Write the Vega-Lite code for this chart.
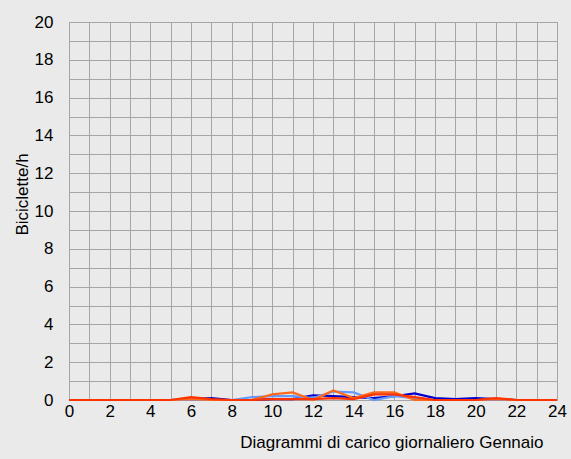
{
  "$schema": "https://vega.github.io/schema/vega-lite/v6.json",
  "width": 488,
  "height": 378,
  "autosize": "none",
  "padding": {"left": 69, "top": 22, "right": 14, "bottom": 59},
  "background": "#EAEAEA",
  "config": {
    "view": {"stroke": "#A0A0A0", "strokeWidth": 1, "fill": "#EAEAEA"},
    "font": "Liberation Sans"
  },
  "data": {
    "values": [
      {"h": 0, "Serie 1": 0, "Serie 2": 0, "Serie 3": 0, "Serie 4": 0},
      {"h": 1, "Serie 1": 0, "Serie 2": 0, "Serie 3": 0, "Serie 4": 0},
      {"h": 2, "Serie 1": 0, "Serie 2": 0, "Serie 3": 0, "Serie 4": 0},
      {"h": 3, "Serie 1": 0, "Serie 2": 0, "Serie 3": 0, "Serie 4": 0},
      {"h": 4, "Serie 1": 0, "Serie 2": 0, "Serie 3": 0, "Serie 4": 0},
      {"h": 5, "Serie 1": 0, "Serie 2": 0, "Serie 3": 0, "Serie 4": 0},
      {"h": 6, "Serie 1": 0.05, "Serie 2": 0, "Serie 3": 0.05, "Serie 4": 0.15},
      {"h": 7, "Serie 1": 0.1, "Serie 2": 0, "Serie 3": 0, "Serie 4": 0.05},
      {"h": 8, "Serie 1": 0, "Serie 2": 0, "Serie 3": 0, "Serie 4": 0},
      {"h": 9, "Serie 1": 0, "Serie 2": 0.15, "Serie 3": 0, "Serie 4": 0},
      {"h": 10, "Serie 1": 0.05, "Serie 2": 0.2, "Serie 3": 0.3, "Serie 4": 0.05},
      {"h": 11, "Serie 1": 0.05, "Serie 2": 0.2, "Serie 3": 0.4, "Serie 4": 0.05},
      {"h": 12, "Serie 1": 0.25, "Serie 2": 0.1, "Serie 3": 0, "Serie 4": 0.05},
      {"h": 13, "Serie 1": 0.2, "Serie 2": 0.45, "Serie 3": 0.5, "Serie 4": 0.1},
      {"h": 14, "Serie 1": 0.15, "Serie 2": 0.4, "Serie 3": 0.1, "Serie 4": 0.05},
      {"h": 15, "Serie 1": 0.1, "Serie 2": 0, "Serie 3": 0.4, "Serie 4": 0.3},
      {"h": 16, "Serie 1": 0.2, "Serie 2": 0.2, "Serie 3": 0.4, "Serie 4": 0.3},
      {"h": 17, "Serie 1": 0.35, "Serie 2": 0.1, "Serie 3": 0, "Serie 4": 0.15},
      {"h": 18, "Serie 1": 0.1, "Serie 2": 0, "Serie 3": 0, "Serie 4": 0},
      {"h": 19, "Serie 1": 0.05, "Serie 2": 0, "Serie 3": 0, "Serie 4": 0},
      {"h": 20, "Serie 1": 0.1, "Serie 2": 0, "Serie 3": 0, "Serie 4": 0},
      {"h": 21, "Serie 1": 0.05, "Serie 2": 0, "Serie 3": 0.05, "Serie 4": 0.1},
      {"h": 22, "Serie 1": 0, "Serie 2": 0, "Serie 3": 0, "Serie 4": 0},
      {"h": 23, "Serie 1": 0, "Serie 2": 0, "Serie 3": 0, "Serie 4": 0},
      {"h": 24, "Serie 1": 0, "Serie 2": 0, "Serie 3": 0, "Serie 4": 0}
    ]
  },
  "transform": [
    {"fold": ["Serie 1", "Serie 2", "Serie 3", "Serie 4"], "as": ["serie", "v"]}
  ],
  "mark": {"type": "line", "strokeWidth": 2.2, "clip": false},
  "encoding": {
    "x": {
      "field": "h",
      "type": "quantitative",
      "scale": {"domain": [0, 24], "nice": false, "zero": false},
      "axis": {
        "values": [0,1,2,3,4,5,6,7,8,9,10,11,12,13,14,15,16,17,18,19,20,21,22,23,24],
        "labelExpr": "datum.value % 2 == 0 ? datum.label : ''",
        "ticks": false,
        "domain": false,
        "grid": true,
        "gridColor": "#A6A6A6",
        "gridOpacity": 1,
        "gridWidth": 1,
        "labelFont": "Liberation Sans",
        "labelFontSize": 17,
        "labelColor": "#000000",
        "labelPadding": 3,
        "labelFlush": false,
        "labelOverlap": false,
        "title": "Diagrammi di carico giornaliero Gennaio",
        "titleFont": "Liberation Sans",
        "titleFontSize": 17,
        "titleFontWeight": "normal",
        "titleColor": "#000000",
        "titleX": 474,
        "titleY": 47,
        "titleAlign": "right",
        "titleBaseline": "alphabetic"
      }
    },
    "y": {
      "field": "v",
      "type": "quantitative",
      "scale": {"domain": [0, 20], "nice": false},
      "axis": {
        "values": [0,1,2,3,4,5,6,7,8,9,10,11,12,13,14,15,16,17,18,19,20],
        "labelExpr": "datum.value % 2 == 0 ? datum.label : ''",
        "ticks": false,
        "domain": false,
        "grid": true,
        "gridColor": "#A6A6A6",
        "gridOpacity": 1,
        "gridWidth": 1,
        "labelFont": "Liberation Sans",
        "labelFontSize": 17,
        "labelColor": "#000000",
        "labelPadding": 16,
        "labelFlush": false,
        "labelOverlap": false,
        "title": "Biciclette/h",
        "titleFont": "Liberation Sans",
        "titleFontSize": 17,
        "titleFontWeight": "normal",
        "titleColor": "#000000",
        "titleAngle": -90,
        "titleX": -47,
        "titleY": 172,
        "titleAlign": "center",
        "titleBaseline": "middle"
      }
    },
    "color": {
      "field": "serie",
      "type": "nominal",
      "scale": {
        "domain": ["Serie 1", "Serie 2", "Serie 3", "Serie 4"],
        "range": ["#0000CC", "#6699FF", "#FF6A1A", "#FF3300"]
      },
      "legend": null
    }
  }
}
